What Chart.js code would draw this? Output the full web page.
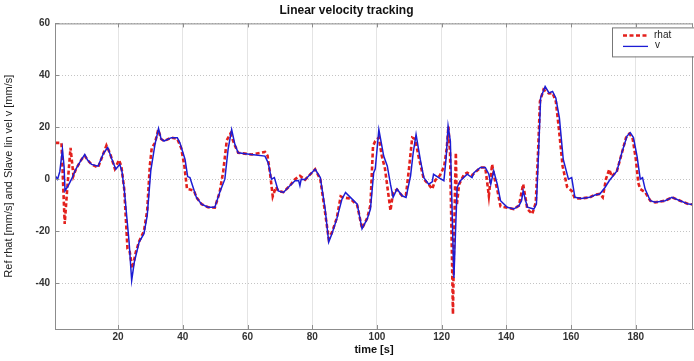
<!DOCTYPE html>
<html>
<head>
<meta charset="utf-8">
<script src="https://cdn.jsdelivr.net/npm/chart.js@4"></script>
<style>
  body { margin: 0; background: #fff; }
  #wrap { width: 694px; height: 361px; }
</style>
</head>
<body>
<div id="wrap"><canvas id="chart" width="694" height="361"></canvas></div>
<script>
// tick labels
const xTicks = [20, 40, 60, 80, 100, 120, 140, 160, 180];
const yTicks = [-40, -20, 0, 20, 40, 60];

// reference rhat
const rhatTime = [
  0.6, 2.5, 3.5, 4.2, 5.3, 6.2, 7.0, 8.7, 9.7, 10.5,
  11.8, 13.8, 15.2, 16.4, 17.5, 19.0, 20.3, 21.0, 21.9, 22.9,
  23.6, 24.4, 25.5, 26.5, 28.0, 29.0, 29.8, 30.4, 31.4, 32.4,
  33.3, 34.2, 36.5, 38.3, 39.5, 40.5, 41.3, 42.2, 43.5, 44.2,
  45.8, 47.8, 49.9, 51.4, 52.5, 53.6, 54.7, 56.1, 57.1, 61.2,
  65.4, 66.2, 67.0, 67.8, 68.8, 69.5, 71.1, 73.1, 74.7, 76.2,
  77.8, 80.9, 82.5, 84.0, 85.1, 86.1, 87.6, 88.8, 89.5, 91.8,
  93.9, 95.4, 97.0, 98.0, 98.8, 99.5, 100.6, 101.5, 102.5, 104.2,
  105.0, 106.2, 107.8, 109.0, 110.0, 110.9, 111.8, 113.0, 114.5, 116.0,
  117.1, 118.0, 119.5, 120.8, 121.6, 122.1, 122.6, 123.2, 123.5, 123.9,
  124.2, 124.4, 124.7, 125.4, 127.0, 127.9, 129.4, 132.0, 133.5, 134.6,
  135.6, 136.4, 137.2, 138.2, 140.3, 142.3, 143.9, 145.2, 146.5, 148.0,
  149.1, 149.8, 150.4, 151.5, 153.2, 154.3, 155.3, 156.2, 157.4, 158.8,
  160.2, 161.2, 163.2, 165.8, 167.4, 168.9, 169.8, 170.8, 171.8, 172.6,
  174.2, 175.7, 177.0, 178.0, 179.0, 180.0, 180.8, 181.4, 182.9, 184.5,
  186.0, 189.1, 191.2, 193.7, 196.3, 198.0
];
const rhatValue = [
  14, 14, -17.2, -5, 12.1, 1.3, 4, 7.6, 9, 7.5,
  5.7, 4.5, 9, 13, 10, 4, 7.4, 5, -3.8, -26.8,
  -28, -34.4, -28, -24, -20, -12, 5, 12, 14, 19,
  15.5, 14.7, 16, 15.5, 12, 5, -3.8, -4, -4.5, -7,
  -9.6, -10.8, -11, -5, 3, 15, 17.5, 13, 10.2, 9.5,
  10.5, 9, 2, -6.6, -3, -4.5, -5, -2.5, 0, 1.3,
  -0.2, 3.8, 0, -13, -23, -20.5, -15, -6.6, -7, -7.5,
  -10, -19, -15, -10, 12.8, 14.7, 16, 9, 4, -12.1,
  -5, -4, -6.4, -6, 5, 16, 15.5, 8, 0, -2,
  -3.8, -0.5, 1.5, 5, 12, 20.3, 10, -30, -52, -20,
  0, 10.2, -10, -2, 2, 2.5, 1.5, 4.5, 4.5, -6.4,
  5.7, 0, -4, -10.5, -11, -11.5, -10.2, -1.9, -11.5, -13.4,
  -9, 10, 30, 34.5, 33, 33.2, 30, 20, 5, -3,
  -4.5, -7.4, -7.4, -7, -6, -5.7, -7, 0, 3.8, 1,
  3.2, 10, 16, 17.5, 16, 8, -1.5, -3.8, -5, -8.3,
  -8.9, -8.3, -7, -8.3, -9.6, -9.8
];

// slave velocity v
const vTime = [
  0.6, 1.3, 2.0, 2.8, 3.3, 3.6, 4.6, 5.6, 7.0, 8.7,
  9.7, 10.5, 11.8, 13.8, 15.5, 16.8, 18.0, 19.3, 20.5, 21.2,
  21.9, 23.4, 24.2, 25.0, 26.5, 28.0, 29.0, 30.1, 31.4, 32.5,
  33.3, 34.2, 36.5, 38.3, 39.1, 40.7, 41.5, 42.2, 43.2, 44.2,
  45.8, 47.8, 49.9, 51.4, 53.0, 54.0, 55.1, 56.1, 57.1, 61.2,
  65.4, 66.4, 67.4, 68.3, 69.5, 71.1, 73.1, 74.7, 75.8, 76.2,
  76.6, 77.8, 80.9, 82.5, 84.0, 85.1, 86.1, 87.6, 89.2, 90.3,
  91.8, 93.9, 95.4, 97.0, 98.0, 99.0, 99.5, 100.6, 102.1, 103.2,
  104.2, 105.0, 106.2, 107.8, 109.0, 110.4, 111.2, 112.1, 113.4, 114.5,
  116.0, 117.1, 117.5, 119.1, 120.7, 121.4, 122.0, 122.7, 123.3, 123.8,
  124.3, 124.8, 125.8, 127.9, 129.4, 130.0, 132.0, 133.5, 134.6, 135.2,
  136.1, 137.2, 138.2, 140.3, 142.3, 143.9, 144.7, 145.2, 146.5, 148.5,
  149.3, 150.1, 150.6, 152.0, 153.2, 154.3, 155.3, 156.4, 157.6, 159.2,
  160.2, 161.2, 163.2, 165.8, 167.4, 168.9, 170.5, 171.8, 174.2, 175.7,
  177.3, 178.3, 179.3, 180.4, 181.4, 182.1, 182.9, 184.5, 186.0, 189.1,
  191.2, 193.7, 196.3, 198.0
];
const vValue = [
  1.3, 0, 3, 11.5, 5, -4.5, -2.5, 0, 4, 7.6,
  9.5, 7.5, 5.7, 5, 10, 12.2, 8, 3.8, 5.7, 3,
  -3.8, -24.2, -39, -32, -24.2, -21, -14, 3.2, 13.4, 19.5,
  15.5, 14.7, 16, 16, 14, 7.6, 1, 0.6, -3.2, -7,
  -9.6, -10.8, -10.8, -5.1, 0, 11.5, 19.1, 13.4, 10.2, 9.5,
  8.9, 6.3, 0, 0.6, -4.5, -5.1, -2.5, -0.6, -0.5, -2.5,
  0, -0.2, 3.8, 0.6, -11.5, -24.2, -21, -15.3, -7.7, -5.1,
  -7, -9.6, -19.1, -15.3, -11.5, 2.5, 4, 19.1, 8.9, 5.1,
  -2, -7, -3.8, -6.4, -7, 1.3, 10, 17.2, 7.6, 0.6,
  -1.9, -1, 1.9, 0.6, -0.6, 8.3, 20.5, 14.7, -15, -38,
  -20, -3.2, -0.6, 1.9, 0.6, 2.5, 4.5, 4.5, 1.9, -1.9,
  3.2, -1.9, -8.3, -10.8, -11.5, -10.2, -8.3, -4.5, -10.8, -11.5,
  -9.6, 14.7, 31.3, 35.7, 33.2, 33.8, 31.3, 23.6, 7.6, 0,
  0.6, -7, -7.4, -7, -6.1, -5.7, -3.2, -0.6, 3.2, 10.2,
  16.6, 17.9, 16, 8.9, 0, 0.6, -3.8, -8.3, -8.9, -8.3,
  -7, -8.3, -9.6, -9.8
];

const RED = '#e3201c';
const BLUE = '#1c1cd4';
const FONT = '"Liberation Sans", Arial, sans-serif';

function toPoints(ts, vs) {
  return ts.map((t, i) => ({ x: t, y: vs[i] }));
}

// box round the plot area, with small inward ticks like matlab
const frame = {
  id: 'frame',
  afterDatasetsDraw(chart) {
    const { ctx, chartArea: a, scales } = chart;
    ctx.save();
    ctx.strokeStyle = '#8c8c8c';
    ctx.lineWidth = 1;
    ctx.strokeRect(a.left + 0.5, a.top + 0.5, a.right - a.left - 1, a.bottom - a.top);
    ctx.beginPath();
    xTicks.forEach(v => {
      const px = Math.round(scales.x.getPixelForValue(v)) + 0.5;
      ctx.moveTo(px, a.top);
      ctx.lineTo(px, a.top + 4);
      ctx.moveTo(px, a.bottom);
      ctx.lineTo(px, a.bottom - 4);
    });
    yTicks.forEach(v => {
      const py = Math.round(scales.y.getPixelForValue(v)) + 0.5;
      ctx.moveTo(a.left, py);
      ctx.lineTo(a.left + 4, py);
    });
    ctx.stroke();
    ctx.restore();
  }
};

// matlab style legend in the upper right corner
const boxLegend = {
  id: 'boxLegend',
  afterDraw(chart) {
    const { ctx, chartArea: a } = chart;
    const x = a.right - 81, y = a.top + 4;
    ctx.save();
    ctx.fillStyle = '#fff';
    ctx.fillRect(x, y, 84, 29);
    ctx.strokeStyle = '#777';
    ctx.lineWidth = 1;
    ctx.strokeRect(x + 0.5, y + 0.5, 84, 29);
    ctx.lineWidth = 2.5;
    ctx.strokeStyle = RED;
    ctx.setLineDash([4, 2.5]);
    ctx.beginPath();
    ctx.moveTo(x + 11, y + 8);
    ctx.lineTo(x + 36, y + 8);
    ctx.stroke();
    ctx.setLineDash([]);
    ctx.lineWidth = 1.3;
    ctx.strokeStyle = BLUE;
    ctx.beginPath();
    ctx.moveTo(x + 11, y + 19);
    ctx.lineTo(x + 36, y + 19);
    ctx.stroke();
    ctx.fillStyle = '#222';
    ctx.font = '10px ' + FONT;
    ctx.textBaseline = 'middle';
    ctx.fillText('rhat', x + 42, y + 8);
    ctx.fillText('v', x + 43, y + 18);
    ctx.restore();
  }
};

new Chart(document.getElementById('chart'), {
  type: 'line',
  data: {
    datasets: [
      {
        label: 'rhat',
        data: toPoints(rhatTime, rhatValue),
        borderColor: RED,
        borderWidth: 2.6,
        borderDash: [4, 2.5],
        pointRadius: 0,
        tension: 0,
        order: 1
      },
      {
        label: 'v',
        data: toPoints(vTime, vValue),
        borderColor: BLUE,
        borderWidth: 1.5,
        pointRadius: 0,
        tension: 0,
        order: 0
      }
    ]
  },
  options: {
    responsive: false,
    animation: false,
    layout: { padding: { left: 0, right: 1, top: 0, bottom: 0 } },
    plugins: {
      legend: { display: false },
      tooltip: { enabled: false },
      title: {
        display: true,
        text: 'Linear velocity tracking',
        color: '#111',
        font: { family: FONT, size: 12, weight: 'bold' },
        padding: { top: 3, bottom: 6 }
      }
    },
    scales: {
      x: {
        type: 'linear',
        min: 0.5,
        max: 197.7,
        afterBuildTicks: s => { s.ticks = xTicks.map(v => ({ value: v })); },
        afterFit: s => { s.height = 32; },
        ticks: {
          color: '#333',
          padding: 2,
          maxRotation: 0,
          font: { family: FONT, size: 10, weight: 'bold' }
        },
        grid: { color: '#e4e4e4', lineWidth: 1, drawTicks: false },
        border: { color: '#8c8c8c', width: 1 },
        title: {
          display: true,
          text: 'time [s]',
          color: '#111',
          padding: { top: 0, bottom: 4 },
          font: { family: FONT, size: 11, weight: 'bold' }
        }
      },
      y: {
        min: -57.7,
        max: 60,
        afterBuildTicks: s => { s.ticks = yTicks.map(v => ({ value: v })); },
        afterFit: s => { s.width = 55; },
        ticks: {
          color: '#333',
          padding: 5,
          font: { family: FONT, size: 10, weight: 'bold' }
        },
        grid: { color: '#c4c4c4', lineWidth: 1, drawTicks: false },
        border: { color: '#8c8c8c', width: 1, dash: [1, 2] },
        title: {
          display: true,
          text: 'Ref rhat [mm/s] and Slave lin vel v [mm/s]',
          color: '#222',
          padding: { top: 2, bottom: 2 },
          font: { family: FONT, size: 11 }
        }
      }
    }
  },
  plugins: [frame, boxLegend]
});
</script>
</body>
</html>
